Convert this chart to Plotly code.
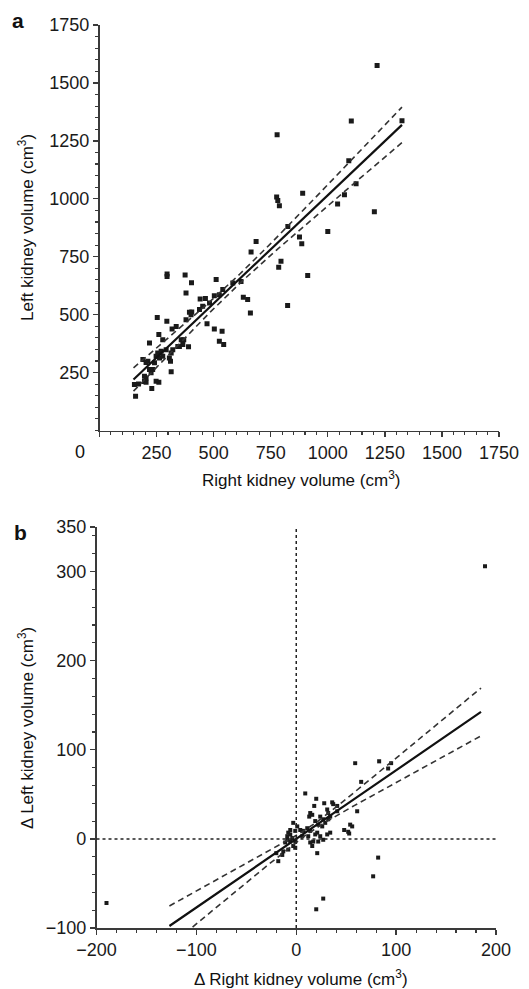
import numpy as np
import plotly.graph_objects as go

# ---------------- Panel a data ----------------
right_vol = [158,153,171,204,260,229,197,248,226,219,212,241,255,263,306,311,321,343,369,314,
             219,260,318,295,253,296,296,375,403,379,390,394,404,441,464,471,503,525,544,537,
             503,540,584,620,630,649,661,511,686,664,795,785,912,876,886,1000,781,788,776,1043,
             824,825,890,1073,1124,1092,1103,1204,1216,778,1325,197,204,233,190,204,248,277,270,292,
             314,358,365,350,401,438,452,482,525,336,379,277]
left_vol = [148,198,201,208,208,181,234,213,249,263,299,292,335,313,313,299,349,363,392,254,
            378,414,438,471,488,675,665,671,638,593,361,510,511,568,570,461,438,385,371,428,
            582,608,637,643,575,565,507,652,816,770,730,704,669,835,806,859,993,970,1008,977,
            539,880,1024,1017,1065,1164,1336,944,1575,1276,1337,212,227,263,306,294,320,320,342,349,
            335,392,371,363,500,522,536,550,586,449,478,392]
fit_a = dict(slope=0.9345, intercept=80.8, x_min=149, x_max=1325, w0=20.0, k=0.102, xm=600)

# ---------------- Panel b data ----------------
d_right = [-190,82,77,27,20,189,9,59,83,95,92,65,20,28,36,37,18,14,13,16,31,32,34,41,41,24,27,19,22,26,
           29,61,56,52,53,-3,1,4,7,-1,-8,-6,-9,-4,-1,34,31,24,19,14,11,17,22,27,-18,-14,-13,-8,-11,-9,
           -6,-3,-1,-20,14,16,12,21,6,-6,32,21,54,48]
d_left = [-72,-21,-42,-67,-79,306,51,85,87,85,79,64,45,40,41,39,37,29,25,27,33,29,25,37,31,25,22,20,16,14,
          18,31,14,8,6,18,14,10,9,9,7,5,3,1,-3,7,5,3,5,9,12,-3,-3,-1,-25,-18,-14,-12,-4,-1,
          -3,-8,-10,-16,-4,-8,3,7,3,10,22,-16,16,10]
fit_b = dict(slope=0.77, intercept=0.0, x_min=-127, x_max=185, w0=3.0, k=0.157, xm=15)

W, H = 529, 989
def xp(px): return px / W
def yp(py): return 1 - py / H

AX = "#3a3a3a"
FONT = "Liberation Sans, Arial, sans-serif"
TICKF = dict(family=FONT, size=18, color="#1a1a1a")

fig = go.Figure()

def add_fit(fit, xa, ya):
    xs = np.linspace(fit["x_min"], fit["x_max"], 200)
    yc = fit["slope"] * xs + fit["intercept"]
    hw = np.sqrt(fit["w0"] ** 2 + (fit["k"] * (xs - fit["xm"])) ** 2)
    for yy, dash, wdt, col in [(yc + hw, "dash", 1.6, "#333"), (yc - hw, "dash", 1.6, "#333"), (yc, "solid", 2.2, "#111")]:
        fig.add_trace(go.Scatter(x=xs, y=yy, mode="lines", xaxis=xa, yaxis=ya,
                                 line=dict(color=col, width=wdt, dash=("6px,4px" if dash == "dash" else "solid")),
                                 showlegend=False, hoverinfo="skip"))

# panel a
fig.add_trace(go.Scatter(x=right_vol, y=left_vol, mode="markers", xaxis="x", yaxis="y",
                         marker=dict(symbol="square", size=5, color="#1a1a1a"), showlegend=False))
add_fit(fit_a, "x", "y")

# panel b
fig.add_trace(go.Scatter(x=d_right, y=d_left, mode="markers", xaxis="x2", yaxis="y2",
                         marker=dict(symbol="square", size=4, color="#1a1a1a"), showlegend=False))
add_fit(fit_b, "x2", "y2")

# dotted zero lines in panel b
fig.add_shape(type="line", xref="x2", yref="y2 domain", x0=0, x1=0, y0=0, y1=1,
              line=dict(color="#222", width=1.5, dash="dot"))
fig.add_shape(type="line", xref="x2 domain", yref="y2", x0=0, x1=1, y0=0, y1=0,
              line=dict(color="#222", width=1.5, dash="dot"))

def axis_common(**kw):
    d = dict(showgrid=False, zeroline=False, showline=True, linecolor=AX, linewidth=1.6,
             ticks="outside", ticklen=5, tickwidth=1.3, tickcolor=AX, tickfont=TICKF,
             fixedrange=True, automargin=False)
    d.update(kw)
    return d

a_xticks = [0, 250, 500, 750, 1000, 1250, 1500, 1750]
a_yticks = [250, 500, 750, 1000, 1250, 1500, 1750]
b_xticks = [-200, -100, 0, 100, 200]
b_yticks = [-100, 0, 100, 200, 300, 350]

fig.update_layout(
    template="none",
    width=W, height=H, margin=dict(l=0, r=0, t=0, b=0, pad=0), autosize=False,
    paper_bgcolor="white", plot_bgcolor="white",
    xaxis=axis_common(domain=[xp(99.5), xp(499)], range=[0, 1750], anchor="y",
                      tickmode="array", tickvals=a_xticks,
                      ticktext=[" "] + [str(v) for v in a_xticks[1:]],
                      minor=dict(dtick=50, tick0=0, ticks="outside", ticklen=3, tickcolor=AX, tickwidth=1.1)),
    yaxis=axis_common(domain=[yp(430.5), yp(25)], range=[0, 1750], anchor="x",
                      tickmode="array", tickvals=a_yticks, ticktext=[str(v) for v in a_yticks],
                      minor=dict(dtick=50, tick0=0, ticks="outside", ticklen=3, tickcolor=AX, tickwidth=1.1)),
    xaxis2=axis_common(domain=[xp(96.5), xp(496)], range=[-200, 200], anchor="y2",
                       tickmode="array", tickvals=b_xticks,
                       ticktext=["\u2212200", "\u2212100", "0", "100", "200"],
                       minor=dict(dtick=20, tick0=0, ticks="outside", ticklen=3, tickcolor=AX, tickwidth=1.1)),
    yaxis2=axis_common(domain=[yp(928), yp(527)], range=[-100, 350], anchor="x2",
                       tickmode="array", tickvals=b_yticks,
                       ticktext=["\u2212100", "0", "100", "200", "300", "350"],
                       minor=dict(dtick=20, tick0=0, ticks="outside", ticklen=3, tickcolor=AX, tickwidth=1.1)),
)

ann = []
def text(x, y, s, size=17, bold=False, angle=0):
    ann.append(dict(xref="paper", yref="paper", x=xp(x), y=yp(y), text=(f"<b>{s}</b>" if bold else s),
                    showarrow=False, xanchor="center", yanchor="middle", textangle=angle,
                    font=dict(family=FONT, size=size, color="#111")))

text(18, 20, "a", size=21, bold=True)
text(20, 532, "b", size=21, bold=True)
text(80, 452, "0", size=18)
text(301, 479, "Right kidney volume (cm<sup>3</sup>)")
text(26, 228, "Left kidney volume (cm<sup>3</sup>)", angle=-90)
text(301, 978, "\u0394 Right kidney volume (cm<sup>3</sup>)")
text(26, 728, "\u0394 Left kidney volume (cm<sup>3</sup>)", angle=-90)
fig.update_layout(annotations=ann)

fig.write_html("out.html", config={"displayModeBar": False, "staticPlot": True},
               post_script="document.body.style.margin='0';document.body.style.padding='0';"
                           "document.body.style.overflow='hidden';")
